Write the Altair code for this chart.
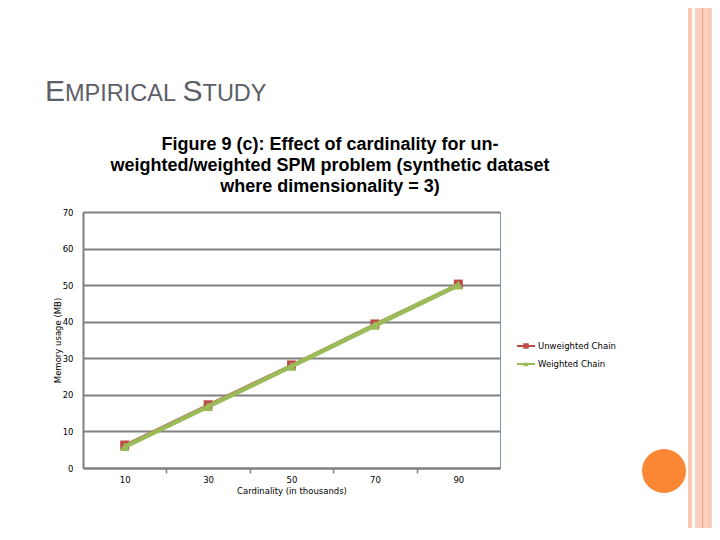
import altair as alt
import pandas as pd

# ---- data ----
cardinality = [10, 30, 50, 70, 90]
unweighted = [6.3, 17.3, 28.2, 39.4, 50.3]
weighted = [5.8, 16.8, 27.8, 39.0, 50.0]
series_names = ["Unweighted Chain", "Weighted Chain"]
series_colors = ["#BE4B48", "#9BBB59"]
series_shapes = ["square", "triangle-up"]
y_ticks = [0, 10, 20, 30, 40, 50, 60, 70]
x_axis_values = [0, 10, 20, 30, 40, 50, 60, 70, 80, 90, 100]
chart_title = ["Figure 9 (c): Effect of cardinality for un-",
               "weighted/weighted SPM problem (synthetic dataset",
               "where dimensionality = 3)"]

W, H = 417, 256
PAD = {"left": 75, "top": 204, "right": 212, "bottom": 60}

df = pd.DataFrame({
    "card": cardinality * 2,
    "mem": unweighted + weighted,
    "series": [series_names[0]] * 5 + [series_names[1]] * 5,
})

one = pd.DataFrame({"k": [0]})

x_enc = alt.X("card:Q", scale=alt.Scale(domain=[0, 100], nice=False),
              axis=alt.Axis(values=x_axis_values, grid=False,
                            labelExpr="datum.value % 20 == 10 ? datum.label : ''",
                            labelOverlap=False, labelFlush=False,
                            tickSize=5, tickWidth=1.5,
                            tickColor={"condition": {"test": "datum.value % 20 == 0 && datum.value > 0 && datum.value < 100",
                                                     "value": "#808080"},
                                       "value": "transparent"},
                            labelPadding=2, labelFontSize=8.5, labelFont="DejaVu Sans",
                            labelColor="#000000",
                            domainColor="#808080", domainWidth=2,
                            title="Cardinality (in thousands)", titleFontSize=8.5,
                            titleFont="DejaVu Sans", titleFontWeight="normal",
                            titleColor="#000000", titleY=22, titleBaseline="middle"))
y_enc = alt.Y("mem:Q", scale=alt.Scale(domain=[0, 70], nice=False),
              axis=alt.Axis(values=y_ticks, ticks=False, grid=True,
                            gridColor="#808080", gridWidth=2,
                            labelPadding=10, labelFontSize=8.5, labelFont="DejaVu Sans",
                            labelColor="#000000", labelOverlap=False,
                            domainColor="#808080", domainWidth=2,
                            title="Memory usage (MB)", titleFontSize=8.5,
                            titleFont="DejaVu Sans", titleFontWeight="normal",
                            titleColor="#000000", titleX=-26, titleY=128,
                            titleAngle=-90, titleAlign="center", titleBaseline="middle"))

layers = []

# slide decorations (right stripes, orange circle)
layers.append(alt.Chart(one).mark_rect(color="#FAC8B5").encode(
    x=alt.value(605), x2=alt.value(609), y=alt.value(-204), y2=alt.value(320)))
layers.append(alt.Chart(one).mark_rect(color="#FCCFBE").encode(
    x=alt.value(612), x2=alt.value(640), y=alt.value(-204), y2=alt.value(320)))
layers.append(alt.Chart(one).mark_rect(color="#F2AA8F").encode(
    x=alt.value(619), x2=alt.value(620.3), y=alt.value(-204), y2=alt.value(320)))
layers.append(alt.Chart(one).mark_rect(color="#F7BCA6").encode(
    x=alt.value(626), x2=alt.value(627), y=alt.value(-204), y2=alt.value(320)))
layers.append(alt.Chart(one).mark_point(filled=True, opacity=1, color="#FB8634",
                                         shape="circle", size=1936).encode(
    x=alt.value(581), y=alt.value(259)))

# slide heading in small caps
head_color = "#5B6068"
big, small = 30, 23.5
x0 = -38
parts = [("E", big), ("MPIRICAL", small), (" ", small), ("S", big), ("TUDY", small)]
widths = {"E": 0.667, "M": 0.833, "P": 0.667, "I": 0.278, "R": 0.722, "C": 0.722,
          "A": 0.667, "L": 0.556, " ": 0.278, "S": 0.667, "T": 0.611, "U": 0.722,
          "D": 0.722, "Y": 0.667}
cx = x0
for txt, fs in parts:
    if txt.strip():
        layers.append(alt.Chart(one).mark_text(
            text=txt, font="Liberation Sans", fontSize=fs, color=head_color,
            align="left", baseline="alphabetic").encode(
            x=alt.value(cx), y=alt.value(-111)))
    cx += sum(widths[c] for c in txt) * fs

# main series (shared scales, identical axis definitions so they merge)
for i, name in enumerate(series_names):
    sub = alt.Chart(df).transform_filter(alt.datum.series == name)
    first = (i == 0)
    layers.append(sub.mark_line(color=series_colors[i],
                                strokeWidth=2.2 if first else 4.5).encode(x=x_enc, y=y_enc))
    layers.append(sub.mark_point(filled=True, opacity=1, color=series_colors[i],
                                 shape=series_shapes[i],
                                 size=80 if first else 100).encode(x=x_enc, y=y_enc))

# legend
for i, name in enumerate(series_names):
    yy = 134 + 18 * i
    ldf = pd.DataFrame({"series": [name]})
    layers.append(alt.Chart(ldf).mark_rule(color=series_colors[i], strokeWidth=2).encode(
        x=alt.value(434), x2=alt.value(452), y=alt.value(yy)))
    layers.append(alt.Chart(ldf).mark_point(filled=True, opacity=1, color=series_colors[i],
                                            shape=series_shapes[i], size=30).encode(
        x=alt.value(443), y=alt.value(yy)))
    layers.append(alt.Chart(ldf).mark_text(font="DejaVu Sans", fontSize=8.5, color="#000000",
                                           align="left", baseline="middle").encode(
        x=alt.value(455), y=alt.value(yy), text="series:N"))

# chart title
layers.append(alt.Chart(one).mark_text(
    text=chart_title, font="Liberation Sans", fontSize=18, fontWeight="bold",
    color="#000000", align="center", baseline="alphabetic", lineHeight=21).encode(
    x=alt.value(247), y=alt.value(-62)))

chart = alt.layer(*layers).properties(
    width=W, height=H, padding=PAD, autosize=alt.AutoSizeParams(type="none"),
    background="#FFFFFF"
).configure_view(stroke="#8497B0", strokeWidth=1)

chart.save("out.html", embed_options={"renderer": "svg", "actions": False})
